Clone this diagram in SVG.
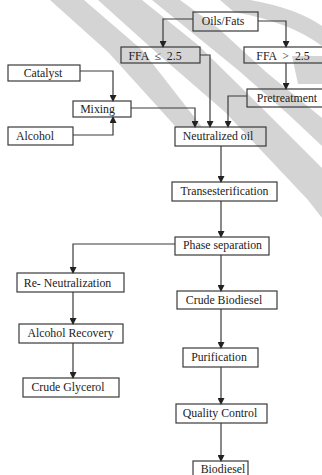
<svg xmlns="http://www.w3.org/2000/svg" width="322" height="475" viewBox="0 0 322 475">
  <style>
    .box { fill: none; stroke: #3a3a3a; stroke-width: 1.2; }
    .lbl { font-family: "Liberation Serif", "DejaVu Serif", "Noto Serif", serif; font-size: 11.8px; fill: #222; text-anchor: middle; }
    .wire { fill: none; stroke: #3a3a3a; stroke-width: 1.2; marker-end: url(#arrow); }
    .mark { fill: #d4d4d4; }
  </style>
  <defs>
    <marker id="arrow" markerUnits="userSpaceOnUse" markerWidth="7" markerHeight="7" refX="6" refY="3.5" orient="auto">
      <path d="M0,0 L7,3.5 L0,7 z" fill="#222"/>
    </marker>
  </defs>
  <rect width="322" height="475" fill="#ffffff"/>

  <!-- background watermark bands -->
  <g id="watermark">
    <polygon class="mark" points="50,0 84,0 142,50 202,127 176,127 108,52"/>
    <polygon class="mark" points="98,0 142,0 198,45 262,108 322,168 322,218 308,200 225,112 158,54"/>
    <polygon class="mark" points="152,0 180,0 218,28 266,72 322,118 322,146 288,114 238,70"/>
    <path class="mark" d="M220,0 L250,0 Q296,8 322,26 L322,46 Q290,22 234,12 z"/>
    <polygon class="mark" points="292,56 322,56 322,84 298,84"/>
  </g>

  <g id="connectors">
    <path class="wire" d="M193,19 H163 V47"/>
    <path class="wire" d="M258,21 H286 V47"/>
    <path class="wire" d="M200,55 H210 V127"/>
    <path class="wire" d="M286,63 V89"/>
    <path class="wire" d="M247,96 H228 V127"/>
    <path class="wire" d="M80,71 H113 V101"/>
    <path class="wire" d="M73,135 H113 V117"/>
    <path class="wire" d="M131,108 H195 V127"/>
    <path class="wire" d="M221,146 V182"/>
    <path class="wire" d="M221,201 V237"/>
    <path class="wire" d="M175,244 H73 V273"/>
    <path class="wire" d="M221,255 V291"/>
    <path class="wire" d="M73,292 V324"/>
    <path class="wire" d="M73,343 V378"/>
    <path class="wire" d="M221,309 V348"/>
    <path class="wire" d="M221,367 V404"/>
    <path class="wire" d="M221,423 V461"/>
  </g>

  <g font-family="Liberation Serif, DejaVu Serif, serif">
  <g id="oils-fats"><rect class="box" x="193" y="12" width="65" height="19"/><text class="lbl" x="223" y="25">Oils/Fats</text></g>
  <g id="ffa-low"><rect class="box" x="121" y="47" width="79" height="16"/><text class="lbl" x="155" y="59.5" xml:space="preserve">FFA  ≤  2.5</text></g>
  <g id="ffa-high"><rect class="box" x="244" y="47" width="86" height="16"/><text class="lbl" x="283" y="59.5" xml:space="preserve">FFA  &gt;  2.5</text></g>
  <g id="pretreatment"><rect class="box" x="247" y="89" width="83" height="18"/><text class="lbl" x="287" y="102">Pretreatment</text></g>
  <g id="catalyst"><rect class="box" x="8" y="65" width="72" height="16"/><text class="lbl" x="43" y="76.5">Catalyst</text></g>
  <g id="mixing"><rect class="box" x="73" y="101" width="58" height="16"/><text class="lbl" x="97.5" y="112.5">Mixing</text></g>
  <g id="alcohol"><rect class="box" x="8" y="127" width="65" height="18"/><text class="lbl" x="35" y="139.5">Alcohol</text></g>
  <g id="neutralized-oil"><rect class="box" x="175" y="127" width="91" height="19"/><text class="lbl" x="218" y="140">Neutralized oil</text></g>
  <g id="transesterification"><rect class="box" x="172" y="182" width="105" height="19"/><text class="lbl" x="224.5" y="195">Transesterification</text></g>
  <g id="phase-separation"><rect class="box" x="175" y="237" width="94" height="18"/><text class="lbl" x="222.5" y="249">Phase separation</text></g>
  <g id="re-neutralization"><rect class="box" x="17" y="273" width="107" height="19"/><text class="lbl" x="67.5" y="286.5">Re- Neutralization</text></g>
  <g id="crude-biodiesel"><rect class="box" x="177" y="291" width="100" height="18"/><text class="lbl" x="224" y="304">Crude Biodiesel</text></g>
  <g id="alcohol-recovery"><rect class="box" x="19" y="324" width="104" height="19"/><text class="lbl" x="70.5" y="337">Alcohol Recovery</text></g>
  <g id="crude-glycerol"><rect class="box" x="23" y="378" width="96" height="19"/><text class="lbl" x="68" y="391">Crude Glycerol</text></g>
  <g id="purification"><rect class="box" x="183" y="348" width="75" height="19"/><text class="lbl" x="219" y="361">Purification</text></g>
  <g id="quality-control"><rect class="box" x="176" y="404" width="91" height="19"/><text class="lbl" x="220" y="417">Quality Control</text></g>
  <g id="biodiesel"><rect class="box" x="193" y="461" width="55" height="19"/><text class="lbl" x="223" y="473">Biodiesel</text></g>
  </g>
</svg>
